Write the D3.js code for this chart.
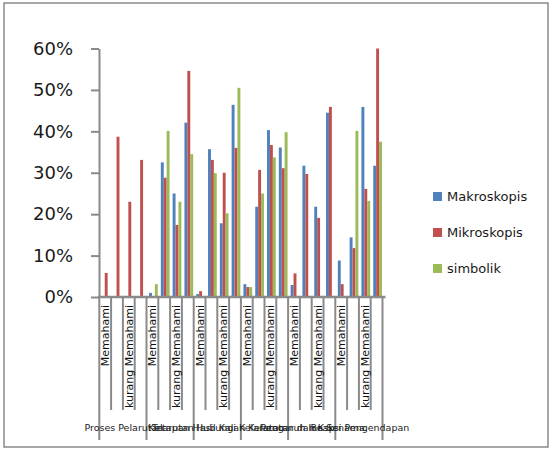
<!DOCTYPE html>
<html>
<head>
<meta charset="utf-8">
<script src="https://cdn.jsdelivr.net/npm/d3@7"></script>
<style>
  html, body { margin: 0; padding: 0; background: #fff; }
  svg { display: block; }
</style>
</head>
<body>
<svg id="chart" width="552" height="453"></svg>
<script>
// Sub-topics (outer category level)
const topics = [
  "Proses Pelarutan",
  "Kelarutan",
  "Tetapan Hasil Kali Kelarutan",
  "Hubungan Kelarutan dan Ksp",
  "Pengaruh Ion Senama",
  "Reaksi Pengendapan"
];
// Inner category level: four slots per topic, every other one labelled
const levelLabels = ["Memahami", "", "kurang Memahami", ""];

// Percentages per category, in topic order
const makroskopis = [0, 0, 0, 0, 1.0, 32.5, 25.0, 42.1, 0.7, 35.7, 17.8, 46.4,
                     3.1, 21.8, 40.3, 36.1, 2.9, 31.7, 21.8, 44.5, 8.8, 14.4, 45.9, 31.7];
const mikroskopis = [5.8, 38.7, 23.0, 33.1, 0, 28.8, 17.4, 54.6, 1.4, 33.1, 30.0, 36.0,
                     2.4, 30.7, 36.7, 31.1, 5.7, 29.7, 19.1, 45.9, 3.1, 11.8, 26.1, 60.0];
const simbolik    = [0, 0, 0, 0, 3.1, 40.1, 23.0, 34.5, 0, 29.9, 20.2, 50.5,
                     2.4, 25.0, 33.7, 39.8, 0, 0, 0, 0, 0, 40.1, 23.2, 37.5];

const seriesNames = ["Makroskopis", "Mikroskopis", "simbolik"];
const seriesColors = ["#4F81BD", "#C0504D", "#9BBB59"];
const yTicks = [0, 0.1, 0.2, 0.3, 0.4, 0.5, 0.6];

const seriesValues = [makroskopis, mikroskopis, simbolik];
const axisGrey = "#8a8a8a";
const fontFamily = "'DejaVu Sans', sans-serif";

const svg = d3.select("#chart");

// Outer chart border
svg.append("rect")
  .attr("x", 4).attr("y", 3).attr("width", 544).attr("height", 444)
  .attr("fill", "none").attr("stroke", axisGrey).attr("stroke-width", 1.5);

const categories = topics.flatMap((t, gi) =>
  levelLabels.map((l, li) => ({ index: gi * levelLabels.length + li, topic: t, label: l, pos: li })));

const x = d3.scaleBand()
  .domain(categories.map(c => c.index))
  .range([100.3, 383.5]);

const sub = d3.scaleBand()
  .domain(seriesNames)
  .range([0, x.bandwidth()])
  .paddingInner(0)
  .paddingOuter(0.53);

const y = d3.scaleLinear().domain([0, 0.6]).range([297, 48.5]);

// Bars
seriesNames.forEach((name, si) => {
  svg.append("g")
    .selectAll("rect")
    .data(seriesValues[si].map((v, i) => ({ i, v: v / 100 })).filter(d => d.v > 0))
    .join("rect")
    .attr("x", d => x(d.i) + sub(name))
    .attr("y", d => y(d.v))
    .attr("width", sub.bandwidth())
    .attr("height", d => y(0) - y(d.v))
    .attr("fill", seriesColors[si]);
});

// Y axis
const yAxis = svg.append("g")
  .attr("transform", "translate(99,0)")
  .call(d3.axisLeft(y)
    .tickValues(yTicks)
    .tickFormat(d3.format(".0%"))
    .tickSize(8)
    .tickSizeOuter(0)
    .tickPadding(18));
yAxis.select(".domain").attr("stroke", axisGrey).attr("stroke-width", 2);
yAxis.selectAll(".tick line").attr("stroke", axisGrey).attr("stroke-width", 2);
yAxis.selectAll(".tick text")
  .attr("font-family", fontFamily)
  .attr("font-size", 18)
  .attr("fill", "#1a1a1a");

// X axis baseline
const xEnd = x.range()[1];
svg.append("line")
  .attr("x1", 98).attr("x2", xEnd + 2)
  .attr("y1", y(0)).attr("y2", y(0))
  .attr("stroke", axisGrey).attr("stroke-width", 2.5);

// Category divider lines: short between inner categories, long between topics
const edges = categories.map(c => ({ xpos: x(c.index), outer: c.pos === 0 }));
edges.push({ xpos: xEnd, outer: true });
svg.append("g")
  .selectAll("line")
  .data(edges)
  .join("line")
  .attr("x1", d => d.xpos - 1).attr("x2", d => d.xpos - 1)
  .attr("y1", y(0))
  .attr("y2", d => d.outer ? 440 : 410)
  .attr("stroke", axisGrey)
  .attr("stroke-width", 2);

// Inner labels (vertical)
svg.append("g")
  .selectAll("text")
  .data(categories.filter(c => c.label))
  .join("text")
  .attr("transform", c => `translate(${x(c.index) + x.bandwidth() / 2 - 0.5},305) rotate(-90)`)
  .attr("text-anchor", "end")
  .attr("dominant-baseline", "central")
  .attr("font-family", fontFamily)
  .attr("font-size", 11)
  .attr("fill", "#111")
  .text(c => c.label);

// Outer topic labels, centred under each topic
svg.append("g")
  .selectAll("text")
  .data(topics)
  .join("text")
  .attr("x", (t, gi) => (x(gi * levelLabels.length) + x(gi * levelLabels.length + levelLabels.length - 1) + x.bandwidth()) / 2)
  .attr("y", 431)
  .attr("text-anchor", "middle")
  .attr("font-family", fontFamily)
  .attr("font-size", 9.5)
  .attr("fill", "#222")
  .text(t => t);

// Legend
const legend = svg.append("g")
  .selectAll("g")
  .data(seriesNames)
  .join("g")
  .attr("transform", (d, i) => `translate(433,${192 + i * 36})`);
legend.append("rect")
  .attr("width", 9).attr("height", 9)
  .attr("fill", (d, i) => seriesColors[i]);
legend.append("text")
  .attr("x", 14).attr("y", 4.5)
  .attr("dominant-baseline", "central")
  .attr("font-family", fontFamily)
  .attr("font-size", 13)
  .attr("fill", "#1a1a1a")
  .text(d => d);
</script>
</body>
</html>
